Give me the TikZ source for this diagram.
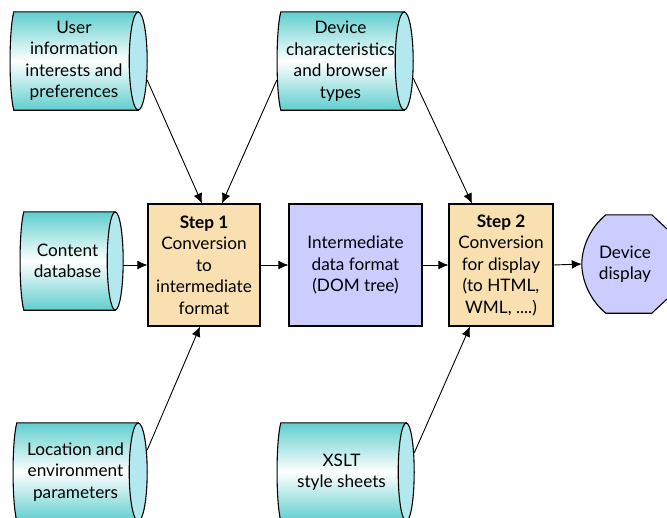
\documentclass[tikz,border=0pt]{standalone}
\usepackage{fontspec}
\setmainfont{Lato}
\usetikzlibrary{arrows.meta,calc,backgrounds}
\definecolor{teal1}{RGB}{96,206,206}
\definecolor{capc}{RGB}{178,232,238}
\definecolor{wheat1}{RGB}{248,224,176}
\definecolor{lav}{RGB}{204,204,255}
\tikzset{
  lbl/.style={align=center, font=\fontsize{17.2}{21.5}\selectfont, inner sep=0pt},
  stepbox/.style={lbl, draw, line width=1.2pt, fill=wheat1},
  midbox/.style={lbl, draw, line width=1.2pt, fill=lav},
  arr/.style={line width=0.9pt, -{Latex[length=10pt,width=9pt]}},
  outline/.style={draw, line width=1.1pt},
}
\newcommand\cylshape[2]{%
  \path[outline, top color=teal1, bottom color=teal1, middle color=white]
    ($(#1.north west)+(4,0)$) -- (#1.north east) -- (#1.south east) -- ($(#1.south west)+(4,0)$)
    .. controls ($(#1.west)+(-1,30)$) and ($(#1.west)+(-1,-30)$) .. cycle;
  \path[outline, fill=capc] (#1.east) ellipse [x radius=#2, y radius=49];
}
\begin{document}
\begin{tikzpicture}[x=1pt,y=-1pt]
\clip (0,0) rectangle (667,517);
% cylinders (named body nodes)
\node[lbl, minimum width=128, minimum height=98] (u) at (74,61) {User\\information\\interests and\\preferences};
\node[lbl, minimum width=127, minimum height=98] (dc) at (340.5,61) {Device\\characteristics\\and browser\\types};
\node[lbl, minimum width=95, minimum height=98] (cd) at (67.5,261) {Content\\database};
\node[lbl, minimum width=125, minimum height=98] (loc) at (75.5,472) {Location and\\environment\\parameters};
\node[lbl, minimum width=129, minimum height=98] (xs) at (341.5,472) {XSLT\\style sheets};
% process boxes
\node[stepbox, minimum width=112, minimum height=122] (s1) at (204,265) {\textbf{Step 1}\\Conversion\\to\\intermediate\\format};
\node[midbox, minimum width=133, minimum height=122] (im) at (355.5,265) {Intermediate\\data format\\(DOM tree)};
\node[stepbox, minimum width=104, minimum height=122] (s2) at (501,265) {\textbf{Step 2}\\Conversion\\for display\\(to HTML,\\WML, ....)};
% display
\node[lbl, minimum width=86, minimum height=98] (disp) at (625,264) {Device\\display};
\begin{pgfonlayer}{background}
  \fill[white] (0,0) rectangle (667,517);
  \cylshape{u}{9}
  \cylshape{dc}{9}
  \cylshape{cd}{8}
  \cylshape{loc}{9}
  \cylshape{xs}{8}
  \path[outline, fill=lav] ($(disp.north west)+(24,0)$) -- ($(disp.north west)+(70,0)$)
    -- ($(disp.north east)+(4,19)$) -- ($(disp.south east)+(4,-19)$)
    -- ($(disp.south west)+(70,0)$) -- ($(disp.south west)+(24,0)$)
    .. controls ($(disp.west)+(8,36)$) and ($(disp.west)+(0,16)$) .. (disp.west)
    .. controls ($(disp.west)+(0,-16)$) and ($(disp.west)+(8,-36)$) .. cycle;
\end{pgfonlayer}
% connectors
\draw[arr] ($(u.east)+(9,19)$) -- ($(s1.north)+(-2,0)$);
\draw[arr] ($(dc.west)+(0,19)$) -- ($(s1.north)+(18,0)$);
\draw[arr] ($(dc.east)+(9,17)$) -- ($(s2.north)+(-29,0)$);
\draw[arr] ($(cd.east)+(8,4)$) -- (s1.west);
\draw[arr] (s1.east) -- (im.west);
\draw[arr] (im.east) -- (s2.west);
\draw[arr] (s2.east) -- (disp.west);
\draw[arr] ($(loc.east)+(9,-22)$) -- ($(s1.south)+(-4,0)$);
\draw[arr] ($(xs.east)+(8,-19)$) -- ($(s2.south)+(-31,0)$);
\end{tikzpicture}
\end{document}
